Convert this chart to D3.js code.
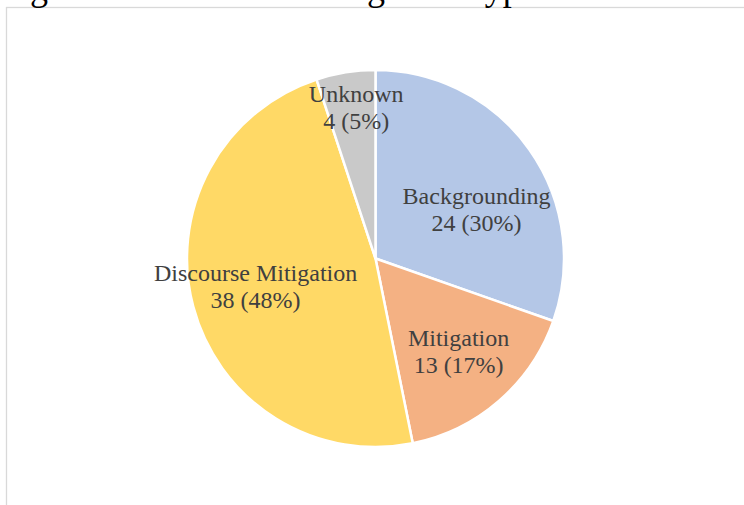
<!DOCTYPE html>
<html><head><meta charset="utf-8">
<script src="https://cdn.jsdelivr.net/npm/d3@7"></script>
<style>html,body{margin:0;padding:0;background:#fff;}svg{display:block;}</style>
</head><body>
<svg id="chart" width="744" height="505"></svg>
<script>
const categories = ["Backgrounding", "Mitigation", "Discourse Mitigation", "Unknown"];
const values = [24, 13, 38, 4];
const percentLabels = ["30%", "17%", "48%", "5%"];
const colors = ["#b4c7e7", "#f4b183", "#ffd966", "#c9c9c9"];
const titleText = "Figure 6. Number of Mitigation Types";

const W = 744, H = 505;
const cx = 375.5, cy = 258.5, R = 188.5;
const labelNudge = [[-3.5, 19.5], [-1, -9], [4, -10], [1, -30]];

const svg = d3.select("#chart");

// frame
svg.append("rect").attr("x", 6.5).attr("y", 7.5).attr("width", 900).attr("height", 700)
  .attr("fill", "none").attr("stroke", "#d9d9d9").attr("stroke-width", 1.3);

// title, cut off at the top edge as in the reference
svg.append("text").attr("x", 0).attr("y", 0)
  .attr("font-family", "Liberation Serif, Times New Roman, serif").attr("font-size", 36)
  .attr("fill", "#000").text(titleText);

const data = categories.map((c, i) => ({ cat: c, value: values[i], pct: percentLabels[i], i }));
const pie = d3.pie().sort(null).value(d => d.value);
const arcs = pie(data);
const arc = d3.arc().innerRadius(0).outerRadius(R);
const labelArc = d3.arc().innerRadius(R * 0.68).outerRadius(R * 0.68);

const g = svg.append("g").attr("transform", `translate(${cx},${cy})`);
g.selectAll("path").data(arcs).join("path")
  .attr("d", arc).attr("fill", d => colors[d.data.i])
  .attr("stroke", "#fff").attr("stroke-width", 2.5).attr("stroke-linejoin", "round");

const lbl = g.selectAll("text.lbl").data(arcs).join("text").attr("class", "lbl")
  .attr("transform", d => {
    const [x, y] = labelArc.centroid(d);
    const n = labelNudge[d.data.i];
    return `translate(${x + n[0]},${y + n[1]})`;
  })
  .attr("text-anchor", "middle")
  .attr("font-family", "Liberation Serif, Times New Roman, serif")
  .attr("font-size", 24).attr("fill", "#404040");
lbl.append("tspan").attr("x", 0).attr("y", 0).text(d => d.data.cat);
lbl.append("tspan").attr("x", 0).attr("y", 27).text(d => `${d.data.value} (${d.data.pct})`);
</script>
</body></html>
